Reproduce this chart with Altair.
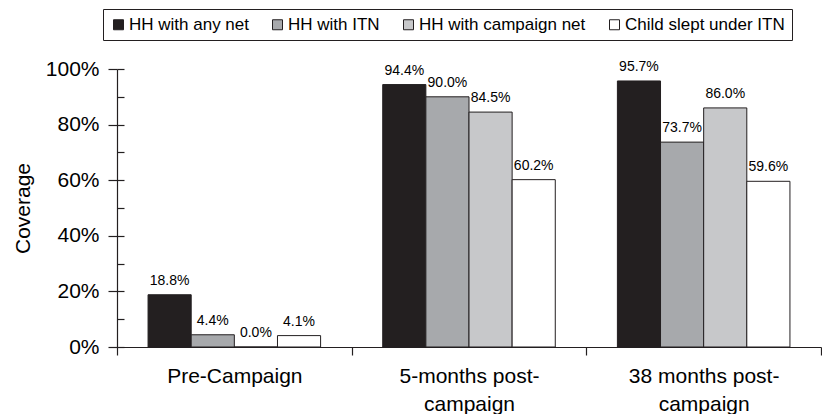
import altair as alt
import pandas as pd

# ---- data -------------------------------------------------------------
periods = ["Pre-Campaign", "5-months post-|campaign", "38 months post-|campaign"]
series = ["HH with any net", "HH with ITN", "HH with campaign net", "Child slept under ITN"]
hh_any_net = [18.8, 94.4, 95.7]
hh_itn = [4.4, 90.0, 73.7]
hh_campaign_net = [0.0, 84.5, 86.0]
child_slept_itn = [4.1, 60.2, 59.6]
bar_colors = ["#231f20", "#a7a9ac", "#c7c8ca", "#ffffff"]
y_major = [0, 20, 40, 60, 80, 100]
y_minor = [0, 10, 20, 30, 40, 50, 60, 70, 80, 90, 100]

rows = []
for s, vals in zip(series, [hh_any_net, hh_itn, hh_campaign_net, child_slept_itn]):
    for p, v in zip(periods, vals):
        rows.append({"period": p, "series": s, "value": v, "label": f"{v:.1f}%"})
df = pd.DataFrame(rows)

FONT = "Liberation Sans"
INK = "#231f20"

x_enc = alt.X(
    "period:N",
    sort=periods,
    scale=alt.Scale(paddingInner=0, paddingOuter=0),
    axis=alt.Axis(
        title=None,
        labelExpr="split(datum.label, '|')",
        labelAngle=0,
        tickBand="extent",
        tickSize=8,
        labelPadding=10,
        labelFontSize=21,
        labelLineHeight=28,
        labelFont=FONT,
        labelColor="#000000",
        domainColor=INK,
        tickColor=INK,
        domainWidth=1.2,
        tickWidth=1.2,
        grid=False,
    ),
)
xo_enc = alt.XOffset(
    "series:N", sort=series, scale=alt.Scale(paddingInner=0, paddingOuter=0.72)
)

bars = alt.Chart(df).mark_bar(stroke=INK, strokeWidth=1).encode(
    x=x_enc,
    xOffset=xo_enc,
    y=alt.Y(
        "value:Q",
        scale=alt.Scale(domain=[0, 100], nice=False),
        axis=alt.Axis(
            values=y_major,
            labelExpr="datum.value + '%'",
            tickSize=9,
            labelPadding=9,
            labelFontSize=21,
            labelFont=FONT,
            labelColor="#000000",
            domainColor=INK,
            tickColor=INK,
            domainWidth=1.2,
            tickWidth=1.2,
            grid=False,
            orient="left",
            title="Coverage",
            titleFont=FONT,
            titleFontSize=21,
            titleFontWeight="normal",
            titleColor="#000000",
            titleAngle=270,
            titleAlign="center",
            titleBaseline="alphabetic",
            titleX=-88,
            titleY=139,
        ),
    ),
    color=alt.Color(
        "series:N",
        sort=series,
        scale=alt.Scale(domain=series, range=bar_colors),
        legend=alt.Legend(
            title=None,
            orient="none",
            legendX=-14,
            legendY=-60,
            direction="horizontal",
            symbolType="square",
            symbolSize=100,
            symbolStrokeColor=INK,
            symbolStrokeWidth=1,
            symbolOpacity=1,
            labelFont=FONT,
            labelFontSize=17,
            labelColor="#000000",
            labelOffset=2,
            columnPadding=20,
            padding=7,
            strokeColor=INK,
            labelLimit=400,
        ),
    ),
)

labels = alt.Chart(df).mark_text(
    baseline="alphabetic", dy=-10, fontSize=14, font=FONT, color="#000000"
).encode(
    x=x_enc,
    xOffset=xo_enc,
    y=alt.Y(
        "value:Q",
        scale=alt.Scale(domain=[0, 100], nice=False),
        axis=alt.Axis(
            values=y_minor,
            orient="left",
            offset=-7,
            tickSize=7,
            domain=False,
            labels=False,
            title=None,
            grid=False,
            tickColor=INK,
            tickWidth=1.2,
        ),
    ),
    text="label:N",
)

chart = (
    alt.layer(bars, labels)
    .resolve_axis(y="independent")
    .properties(
        width=704,
        height=278,
        autosize=alt.AutoSizeParams(type="none"),
        padding={"left": 117, "top": 69, "right": 1, "bottom": 67},
        background="#ffffff",
    )
    .configure_view(stroke=None)
)

chart.save("out.html", embed_options={"renderer": "svg", "actions": False})
